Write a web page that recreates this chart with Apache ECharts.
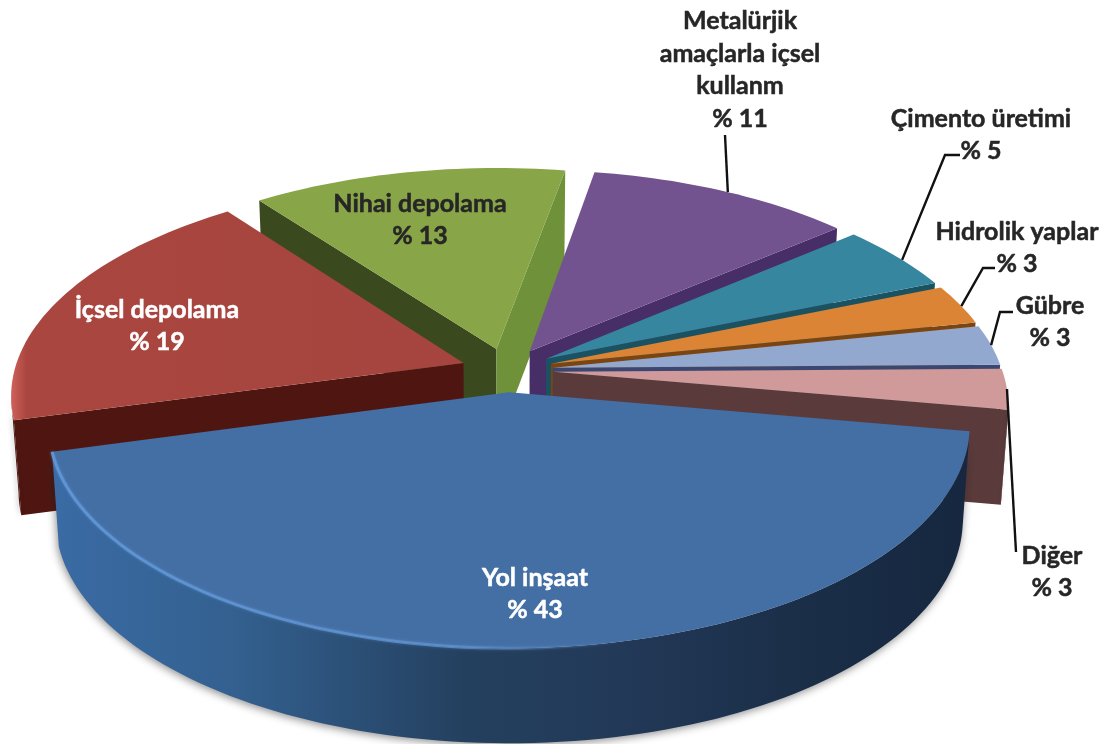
<!DOCTYPE html>
<html><head><meta charset="utf-8">
<style>html,body{margin:0;padding:0;background:#fff}#c{width:1103px;height:744px}</style>
<script src="https://cdn.jsdelivr.net/npm/echarts@6/dist/echarts.min.js"></script>
</head><body><div id="c"></div>
<script>
// ---- data, in pie order (clockwise from the right-hand side) ----
const categories = ['Yol inşaat','İçsel depolama','Nihai depolama','Metalürjik\namaçlarla içsel\nkullanm','Çimento üretimi','Hidrolik yaplar','Gübre','Diğer'];
const values = [43,19,13,11,5,3,3,3];

// ---- styles ----
const topColors  = ['#436fa5',
  {type:'linear',x:0,y:0,x2:1,y2:0,colorStops:[{offset:0,color:'#d0605a'},{offset:.035,color:'#a9463f'},{offset:1,color:'#a6443f'}]},
  '#88a547','#72538f','#37869f','#dc8436','#93a8cf','#cf9a99'];
const sideColors = ['#264264','#4f1611','#3b4a1e','#472e66','#1b5262','#7a4510','#3b4770','#5a3a3a'];
const endSideColors = ['#264264','#4f1611','#6f9139','#472e66','#1b5262','#7a4510','#3b4770','#5a3a3a'];
const labelColors = ['#ffffff','#ffffff','#262626','#262626','#262626','#262626','#262626','#262626'];
const labelPos = [[535,594],[157,326],[420,220],[740,70],[981,135],[1017,248],[1050,322],[1052,572]];
const labelLeaders = [null,null,null,[[725,135]],[[945,155],[960,155]],[[983,268],[995,268]],[[1000,312],[1013,312]],[[1016,552]]];
const leaderShift = [0,0,0,.7,1,.5,0,0];

// ---- projection of the tilted pie plane ----
const CX=507, CY=370, RX=449, RY=212.5, PERSP=0.143, EXPLODE=0.103, DEPTH=95, BASE=0.985, START=10;
const total = values.reduce((a,b)=>a+b,0);
function project(X,Y){const w=1-PERSP*Y;return [CX+RX*X/w, CY+RY*Y/w];}
function sliceOf(i){
  let s=0; for(let k=0;k<i;k++) s+=values[k];
  const a0=START+s/total*360, a1=a0+values[i]/total*360, b=(a0+a1)/2*Math.PI/180;
  return {a0,a1,b,ox:EXPLODE*Math.cos(b),oy:EXPLODE*Math.sin(b)};
}
function rimPt(sl,deg){const t=deg*Math.PI/180;return project(sl.ox+Math.cos(t),sl.oy+Math.sin(t));}
function base(p){return [CX+(p[0]-CX)*BASE,p[1]+DEPTH];}
function wallPoly(top){return top.concat(top.slice().reverse().map(base));}

function renderItem(params,api){
  const i=params.dataIndex, sl=sliceOf(i), z=Math.round(Math.sin(sl.b)*100)+100;
  const apex=project(sl.ox,sl.oy), rim=[];
  const n=Math.max(4,Math.ceil((sl.a1-sl.a0)/1.5));
  for(let k=0;k<=n;k++) rim.push(rimPt(sl,sl.a0+(sl.a1-sl.a0)*k/n));
  const kids=[];
  const big=i===0;
  const sideFill=big?{type:'linear',x:0,y:0,x2:1,y2:0,colorStops:[
      {offset:0,color:'#3a6ba4'},{offset:.2,color:'#33608f'},{offset:.45,color:'#24405f'},
      {offset:.6,color:'#233a59'},{offset:.8,color:'#1b2f49'},{offset:1,color:'#16273f'}]}:sideColors[i];
  // radial walls
  const a=rim[0], e=rim[rim.length-1];
  if(a[0]<apex[0]) kids.push({type:'polygon',z2:z,shape:{points:wallPoly([apex,a])},style:{fill:sideColors[i]}});
  if(apex[0]<e[0]) kids.push({type:'polygon',z2:z,shape:{points:wallPoly([e,apex])},style:{fill:endSideColors[i]}});
  // rim wall: the run of rim that faces the viewer
  let run=[];
  for(let k=0;k<rim.length-1;k++){
    if(rim[k+1][0]<rim[k][0]){ if(!run.length) run.push(rim[k]); run.push(rim[k+1]); }
  }
  if(run.length>1) kids.push({type:'polygon',z2:z,shape:{points:wallPoly(run)},
    style:{fill:sideFill,shadowBlur:big?8:4,shadowColor:'rgba(30,30,30,.5)',shadowOffsetX:-1,shadowOffsetY:2}});
  // top face
  kids.push({type:'polygon',z2:z+1,shape:{points:[apex].concat(rim)},style:{fill:topColors[i]}});
  // bevel highlight on the big slice
  if(big){
    kids.push({type:'polyline',z2:z+2,shape:{points:rim},style:{fill:null,lineWidth:3,
      stroke:{type:'linear',x:0,y:0,x2:1,y2:0,colorStops:[{offset:0,color:'rgba(95,150,215,.95)'},{offset:.45,color:'rgba(95,145,205,.75)'},{offset:.62,color:'rgba(80,115,160,0)'},{offset:1,color:'rgba(80,115,160,0)'}]},
      shadowBlur:3,shadowColor:'rgba(100,150,210,.6)'}});
  }
  // leader
  if(labelLeaders[i]){
    const m=(sl.a0+sl.a1)/2+leaderShift[i], start=rimPt(sl,m);
    kids.push({type:'polyline',z2:400,shape:{points:[start].concat(labelLeaders[i])},style:{fill:null,stroke:'#111',lineWidth:2.4}});
  }
  // label
  kids.push({type:'text',z2:500,style:{text:categories[i]+'\n% '+api.value(0),x:labelPos[i][0],y:labelPos[i][1],
    fill:labelColors[i],stroke:labelColors[i],lineWidth:.5,fontFamily:'Lato',fontWeight:700,fontSize:25,lineHeight:32.5,align:'center',verticalAlign:'middle',textAlign:'center',textVerticalAlign:'middle'}});
  return {type:'group',children:kids};
}

const chart=echarts.init(document.getElementById('c'),null,{renderer:'canvas'});
chart.setOption({animation:false,backgroundColor:'#fff',series:[{type:'custom',coordinateSystem:'none',silent:true,renderItem,data:values.map(v=>[v])}]});
</script></body></html>
